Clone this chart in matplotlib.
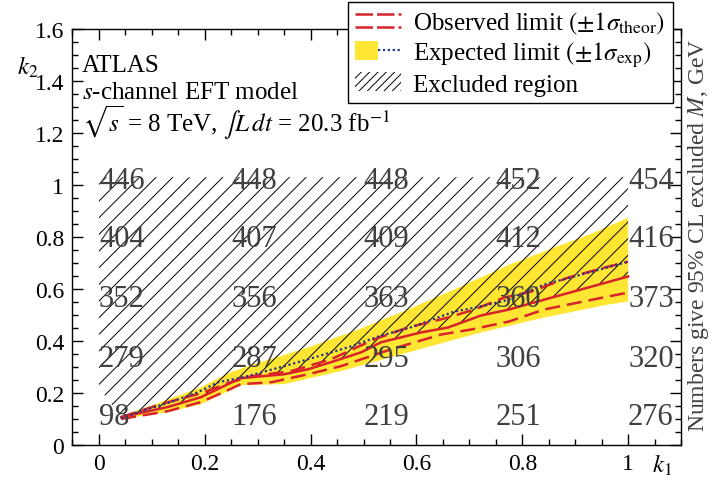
import numpy as np
import matplotlib
matplotlib.use("Agg")
import matplotlib.pyplot as plt
from matplotlib.lines import Line2D
from matplotlib.patches import Patch
from matplotlib.legend_handler import HandlerBase, HandlerTuple
from matplotlib.ticker import MultipleLocator, FuncFormatter

plt.rcParams["font.family"] = ["Liberation Serif", "DejaVu Serif"]
plt.rcParams["mathtext.fontset"] = "stix"
plt.rcParams["hatch.linewidth"] = 0.7

# ---- limit curves in the (k1, k2) plane ----
obs_k1 = [0.042, 0.130, 0.193, 0.244, 0.268, 0.350, 0.395, 0.444, 0.495,
          0.533, 0.609, 0.660, 0.722, 0.775, 0.822, 0.911, 1.0]
obs_k2 = [0.107, 0.146, 0.184, 0.234, 0.257, 0.272, 0.291, 0.322, 0.356,
          0.395, 0.433, 0.452, 0.498, 0.521, 0.548, 0.598, 0.648]

obs_up_k1 = [0.042, 0.117, 0.193, 0.244, 0.287, 0.363, 0.439, 0.520, 0.584,
             0.660, 0.709, 0.766, 0.817, 0.887, 0.955, 1.0]
obs_up_k2 = [0.107, 0.157, 0.199, 0.238, 0.264, 0.284, 0.330, 0.406, 0.452,
             0.490, 0.521, 0.567, 0.590, 0.644, 0.682, 0.705]

obs_dn_k1 = [0.042, 0.130, 0.193, 0.244, 0.268, 0.325, 0.395, 0.457, 0.552,
             0.647, 0.703, 0.775, 0.841, 0.962, 1.0]
obs_dn_k2 = [0.100, 0.130, 0.165, 0.211, 0.234, 0.241, 0.272, 0.303, 0.368,
             0.425, 0.444, 0.475, 0.521, 0.571, 0.586]

exp_k1 = [0.042, 0.079, 0.136, 0.187, 0.225, 0.274, 0.350, 0.414, 0.476,
          0.529, 0.595, 0.671, 0.722, 0.775, 0.841, 0.911, 1.0]
exp_k2 = [0.103, 0.130, 0.165, 0.203, 0.241, 0.261, 0.303, 0.341, 0.379,
          0.418, 0.456, 0.513, 0.533, 0.559, 0.617, 0.655, 0.705]

exp_up_k1 = [0.042, 0.117, 0.193, 0.244, 0.287, 0.395, 0.490, 0.584, 0.679,
             0.775, 0.860, 0.930, 1.0]
exp_up_k2 = [0.111, 0.165, 0.222, 0.276, 0.307, 0.375, 0.444, 0.521, 0.605,
             0.693, 0.759, 0.812, 0.874]

exp_dn_k1 = [0.042, 0.130, 0.193, 0.268, 0.350, 0.457, 0.584, 0.722, 0.841,
             0.962, 1.0]
exp_dn_k2 = [0.100, 0.126, 0.157, 0.230, 0.234, 0.284, 0.356, 0.433, 0.490,
             0.540, 0.552]

# upper edge of the hatched (excluded) area
excl_top = 1.03
excl_left_low = 0.22

# ---- excluded mass grid (GeV) ----
grid_k1 = [0.0, 0.25, 0.5, 0.75, 1.0]
grid_k2 = [0.99, 0.765, 0.535, 0.305, 0.08]
grid_mass = [
    [446, 448, 448, 452, 454],
    [404, 407, 409, 412, 416],
    [352, 356, 363, 360, 373],
    [279, 287, 295, 306, 320],
    [98, 176, 219, 251, 276],
]

x_ticks = [0, 0.2, 0.4, 0.6, 0.8, 1.0]
y_ticks = [0, 0.2, 0.4, 0.6, 0.8, 1.0, 1.2, 1.4, 1.6]

RED = "#d8232a"
BLUE = "#27348b"
YELLOW = "#ffe632"
TEXT = "#404040"
FS = 18

fig = plt.figure(figsize=(7.12, 4.81), dpi=100)
ax = fig.add_axes([0.1018, 0.0728, 0.8547, 0.8649])

# expected +-1 sigma band
ax.fill(np.concatenate([exp_up_k1, exp_dn_k1[::-1]]),
        np.concatenate([exp_up_k2, exp_dn_k2[::-1]]),
        facecolor=YELLOW, edgecolor="none", zorder=1)

# hatched excluded region above the observed limit
hx = np.concatenate([[0.0, 1.0], obs_k1[::-1], [0.0]])
hy = np.concatenate([[excl_top, excl_top], obs_k2[::-1], [excl_left_low]])
ax.fill(hx, hy, facecolor="none", edgecolor="black", linewidth=0,
        hatch="//", zorder=2)

dash = (0, (6, 2.8))
ax.plot(obs_up_k1, obs_up_k2, color=RED, lw=1.8, linestyle=dash, zorder=3)
ax.plot(obs_dn_k1, obs_dn_k2, color=RED, lw=1.8, linestyle=dash, zorder=3)
ax.plot(obs_k1, obs_k2, color=RED, lw=1.8, zorder=4)
ax.plot(exp_k1, exp_k2, color=BLUE, lw=1.6, linestyle=(0, (1, 1.2)), zorder=5)

for row_k2, row in zip(grid_k2, grid_mass):
    for col_k1, m in zip(grid_k1, row):
        ax.text(col_k1, row_k2, str(m), fontsize=22, color=TEXT,
                ha="left", va="baseline", zorder=6)

ax.set_xlim(-0.05, 1.1)
ax.set_ylim(0, 1.6)
ax.set_xticks(x_ticks)
ax.set_yticks(y_ticks)
fmt = FuncFormatter(lambda v, p: f"{v:g}")
ax.xaxis.set_major_formatter(fmt)
ax.yaxis.set_major_formatter(fmt)
ax.xaxis.set_minor_locator(MultipleLocator(0.05))
ax.yaxis.set_minor_locator(MultipleLocator(0.05))
ax.tick_params(which="both", direction="in", top=True, right=True,
               labelsize=17, width=1.0, pad=6)
ax.tick_params(which="major", length=8)
ax.tick_params(which="minor", length=4)
for s in ax.spines.values():
    s.set_linewidth(1.0)

ax.text(0.0156, 0.899, "ATLAS", transform=ax.transAxes, fontsize=FS)
ax.text(0.0156, 0.835, r"$s$-channel EFT model", transform=ax.transAxes,
        fontsize=FS)
ax.text(0.0156, 0.755,
        r"$\sqrt{s}$ = 8 TeV, $\int L\,dt$ = 20.3 fb$^{-1}$",
        transform=ax.transAxes, fontsize=FS)

fig.text(28 / 712, 1 - 67 / 481, r"$k_2$", fontsize=FS, ha="center",
         va="center")
fig.text(662 / 712, 1 - 465 / 481, r"$k_1$", fontsize=FS, ha="center",
         va="center")
fig.text(0.981, 0.51, r"Numbers give 95% CL excluded $M$, GeV",
         rotation=90, fontsize=17, ha="center", va="center", color=TEXT)


class PairedDashHandler(HandlerBase):
    def create_artists(self, legend, orig_handle, xdescent, ydescent,
                       width, height, fontsize, trans):
        arts = []
        for frac in (0.85, 0.15):
            y = frac * height - ydescent
            ln = Line2D([-xdescent, -xdescent + width], [y, y], color=RED,
                        lw=1.8, linestyle=(0, (7, 1.6)))
            ln.set_transform(trans)
            arts.append(ln)
        return arts


h_obs = Line2D([], [], color=RED)
h_exp = (Patch(facecolor=YELLOW, edgecolor="none"),
         Line2D([], [], color=BLUE, lw=1.6, linestyle=(0, (1, 1.2))))
h_excl = Patch(facecolor="none", edgecolor="black", linewidth=0, hatch="////")

leg = fig.legend(
    [h_obs, h_exp, h_excl],
    [r"Observed limit $(\pm1\sigma_{\rm theor})$",
     r"Expected limit $(\pm1\sigma_{\rm exp})$",
     "Excluded region"],
    handler_map={h_obs: PairedDashHandler(),
                 tuple: HandlerTuple(ndivide=None, pad=0)},
    loc="upper right", bbox_to_anchor=(673 / 712, 1 - 3 / 481),
    fontsize=FS, frameon=True, fancybox=False, framealpha=1,
    edgecolor="black", borderpad=0.3, labelspacing=0.15,
    handlelength=1.84, handleheight=0.8, handletextpad=0.48, borderaxespad=0)
leg.get_frame().set_linewidth(1.0)

fig.savefig("out.png", dpi=100)
